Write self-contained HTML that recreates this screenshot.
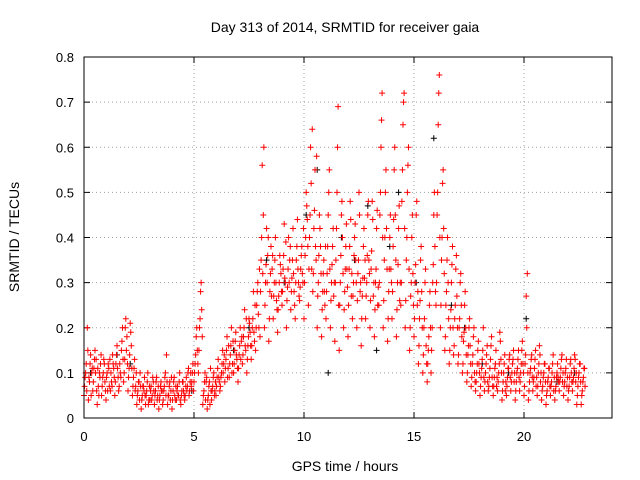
<!DOCTYPE html>
<html><head><meta charset="utf-8"><style>
body{margin:0;background:#fff}
svg{display:block;font-family:"Liberation Sans",sans-serif}
</style></head><body>
<svg id="chart" width="640" height="480" viewBox="0 0 640 480">
<rect width="640" height="480" fill="#fff"/>
<text x="345" y="32" font-size="14" text-anchor="middle">Day 313 of 2014, SRMTID for receiver gaia</text>
<g id="grid"></g>
<g id="ticks"></g>
<g id="pts"></g>
<rect x="84" y="57" width="528" height="361" fill="none" stroke="#000" stroke-width="1"/>
<text x="345" y="471" font-size="14" text-anchor="middle">GPS time / hours</text>
<text x="0" y="0" font-size="14" text-anchor="middle" transform="translate(19,237) rotate(-90)">SRMTID / TECUs</text>
</svg>
<script>
const xTicks=[0,5,10,15,20];
const yTicks=[0,0.1,0.2,0.3,0.4,0.5,0.6,0.7,0.8];
const tStart=0, tStep=0.2;
const redValues=[
[.05,.09,.12,.2],[.04,.08,.14,.1],[.06,.11,.15,.13],[.03,.07,.1,.12],[.05,.09,.13,.08],
[.04,.1,.12,.07],[.06,.08,.14,.11],[.05,.12,.16,.09],[.07,.1,.15,.2],[.08,.13,.22,.18],
[.06,.11,.21,.16],[.05,.09,.13,.07],[.03,.06,.08,.1],[.02,.05,.07,.09],[.03,.06,.1,.04],
[.04,.07,.05,.08],[.03,.06,.09,.05],[.02,.05,.08,.06],[.04,.07,.1,.14],[.03,.05,.08,.06],
[.02,.06,.09,.04],[.04,.07,.05,.1],[.03,.06,.08,.05],[.05,.09,.07,.11],[.06,.1,.08,.12],
[.08,.12,.18,.15],[.1,.2,.28,.24],[.03,.06,.1,.08],[.02,.05,.08,.11],[.04,.07,.1,.06],
[.05,.09,.13,.08],[.07,.1,.15,.12],[.08,.13,.18,.11],[.09,.14,.2,.12],[.1,.15,.19,.13],
[.08,.14,.2,.17],[.12,.18,.24,.15],[.1,.16,.22,.19],[.13,.2,.28,.17],[.15,.25,.3,.2],
[.18,.35,.56,.45],[.2,.3,.42,.36],[.17,.28,.38,.33],[.22,.3,.4,.26],[.19,.27,.36,.32],
[.25,.33,.43,.3],[.2,.29,.4,.35],[.24,.31,.42,.28],[.22,.35,.44,.3],[.26,.33,.38,.3],
[.22,.36,.5,.44],[.25,.4,.6,.33],[.28,.42,.55,.35],[.2,.3,.45,.38],[.18,.28,.35,.25],
[.22,.32,.45,.55],[.2,.3,.38,.27],[.17,.35,.5,.69],[.15,.3,.45,.4],[.2,.28,.38,.33],
[.18,.33,.48,.27],[.22,.3,.4,.35],[.2,.32,.5,.28],[.16,.27,.38,.31],[.22,.3,.45,.35],
[.2,.33,.48,.27],[.18,.3,.42,.25],[.25,.45,.6,.72],[.2,.35,.5,.42],[.17,.28,.4,.33],
[.22,.38,.55,.45],[.18,.3,.42,.26],[.25,.48,.65,.72],[.2,.35,.5,.6],[.15,.27,.4,.32],
[.18,.3,.45,.25],[.12,.22,.35,.28],[.1,.2,.3,.16],[.08,.15,.25,.2],[.15,.3,.45,.38],
[.25,.45,.65,.76],[.2,.35,.52,.42],[.15,.25,.35,.3],[.12,.2,.3,.38],[.14,.22,.33,.27],
[.12,.2,.3,.25],[.1,.17,.25,.2],[.08,.14,.2,.16],[.07,.12,.18,.1],[.06,.1,.15,.12],
[.05,.09,.13,.2],[.06,.1,.14,.08],[.07,.11,.16,.09],[.05,.09,.12,.07],[.06,.1,.19,.13],
[.04,.08,.12,.06],[.05,.09,.11,.14],[.06,.1,.13,.08],[.04,.08,.11,.15],[.06,.1,.15,.12],
[.05,.12,.27,.32],[.04,.08,.11,.14],[.06,.09,.13,.07],[.05,.1,.16,.08],[.04,.07,.1,.12],
[.03,.06,.09,.11],[.05,.08,.12,.06],[.04,.07,.1,.09],[.06,.09,.13,.08],[.05,.08,.11,.07],
[.04,.07,.12,.1],[.06,.09,.14,.08],[.03,.07,.1,.12],[.03,.06,.09,.11]];
const redValues2=[
[.07,.1,.06,.15],[.09,.12,.05,.11],[.08,.13,.1,.06],[.11,.05,.09,.14],[.07,.1,.12,.06],
[.09,.06,.11,.13],[.1,.07,.12,.09],[.08,.14,.11,.06],[.12,.09,.17,.13],[.1,.2,.15,.12],
[.09,.14,.19,.11],[.07,.11,.06,.1],[.05,.08,.04,.07],[.04,.07,.06,.05],[.05,.08,.03,.07],
[.06,.04,.09,.06],[.05,.08,.04,.07],[.04,.07,.06,.03],[.06,.09,.05,.08],[.05,.07,.04,.09],
[.04,.08,.05,.07],[.06,.05,.08,.04],[.05,.08,.06,.04],[.07,.06,.1,.05],[.08,.07,.1,.06],
[.1,.14,.2,.12],[.15,.22,.3,.18],[.05,.08,.04,.09],[.04,.07,.03,.06],[.06,.09,.05,.08],
[.07,.11,.09,.06],[.09,.12,.1,.14],[.11,.15,.09,.16],[.12,.16,.1,.17],[.12,.17,.14,.11],
[.11,.16,.13,.18],[.14,.2,.16,.22],[.13,.18,.21,.16],[.16,.22,.19,.25],[.2,.28,.23,.33],
[.28,.4,.32,.6],[.25,.34,.3,.4],[.22,.32,.27,.36],[.27,.35,.3,.24],[.24,.3,.34,.28],
[.28,.36,.31,.39],[.26,.33,.3,.38],[.28,.35,.32,.25],[.3,.38,.33,.27],[.29,.36,.32,.42],
[.3,.4,.47,.38],[.33,.45,.52,.64],[.32,.46,.38,.58],[.27,.36,.42,.32],[.24,.32,.28,.38],
[.28,.38,.5,.33],[.26,.34,.42,.3],[.3,.42,.6,.25],[.25,.36,.48,.32],[.24,.33,.43,.29],
[.25,.38,.44,.32],[.27,.36,.43,.3],[.26,.35,.45,.3],[.22,.31,.42,.35],[.27,.36,.48,.32],
[.26,.37,.44,.3],[.24,.33,.46,.29],[.3,.5,.66,.4],[.26,.4,.55,.33],[.22,.33,.45,.3],
[.28,.44,.6,.35],[.24,.34,.47,.3],[.3,.55,.7,.42],[.26,.4,.56,.33],[.2,.3,.45,.25],
[.22,.34,.48,.28],[.16,.26,.38,.2],[.14,.22,.33,.12],[.12,.18,.28,.1],[.2,.34,.5,.28],
[.3,.5,.72,.4],[.25,.4,.55,.32],[.18,.28,.4,.22],[.15,.24,.34,.2],[.16,.25,.36,.2],
[.14,.22,.32,.18],[.12,.19,.28,.14],[.1,.16,.22,.12],[.09,.14,.2,.08],[.08,.12,.17,.1],
[.07,.11,.15,.09],[.08,.12,.16,.06],[.09,.13,.18,.07],[.07,.11,.15,.09],[.08,.12,.17,.1],
[.06,.1,.14,.08],[.07,.11,.13,.09],[.08,.12,.15,.1],[.06,.1,.13,.09],[.08,.12,.17,.1],
[.07,.14,.2,.1],[.06,.1,.13,.09],[.08,.11,.15,.09],[.07,.12,.14,.1],[.06,.09,.12,.08],
[.05,.08,.11,.07],[.07,.1,.14,.09],[.06,.09,.12,.08],[.08,.11,.14,.1],[.07,.1,.13,.09],
[.06,.09,.13,.08],[.08,.11,.13,.1],[.05,.09,.12,.08],[.05,.08,.11,.07]];
const blackTimes=[0.3,1.5,2.1,4.9,6.8,7.5,8.3,9.1,10.1,10.6,11.1,11.7,12.3,12.9,13.3,13.9,14.3,15.1,15.9,16.7,17.3,18.1,19.3,20.1,21.5,22.3];
const blackValues=[.1,.14,.12,.06,.15,.2,.35,.3,.45,.55,.1,.4,.35,.47,.15,.38,.5,.3,.62,.25,.2,.12,.1,.22,.08,.1];
const X=t=>84+t*22, Y=v=>418-v*451.25;
const NS='http://www.w3.org/2000/svg';
const grid=document.getElementById('grid'), ticks=document.getElementById('ticks'), pts=document.getElementById('pts');
function mk(tag,attrs,parent){const e=document.createElementNS(NS,tag);for(const k in attrs)e.setAttribute(k,attrs[k]);parent.appendChild(e);return e;}
xTicks.forEach(v=>{
  const gl=mk('line',{x1:X(v),x2:X(v),y1:57,y2:418,stroke:'#a0a0a0','stroke-dasharray':'1,3'},grid);
  
  
  mk('line',{x1:X(v),x2:X(v),y1:418,y2:412,stroke:'#000'},ticks);
  mk('line',{x1:X(v),x2:X(v),y1:57,y2:63,stroke:'#000'},ticks);
  const tx=mk('text',{x:X(v),y:441,'font-size':13,'text-anchor':'middle'},ticks);
  tx.textContent=v;
  
  
});
yTicks.forEach(v=>{
  const gl=mk('line',{x1:84,x2:612,y1:Y(v),y2:Y(v),stroke:'#a0a0a0','stroke-dasharray':'1,3'},grid);
  
  
  mk('line',{x1:84,x2:90,y1:Y(v),y2:Y(v),stroke:'#000'},ticks);
  mk('line',{x1:606,x2:612,y1:Y(v),y2:Y(v),stroke:'#000'},ticks);
  const tx=mk('text',{x:74,y:Y(v)+5,'font-size':13,'text-anchor':'end'},ticks);
  tx.textContent=v===0?'0':v.toFixed(1);
  
  
});
function cross(t,v,col){
  const x=X(t),y=Y(v);
  const p=mk('path',{d:`M${x-3},${y}h6M${x},${y-3}v6`,stroke:col,'stroke-width':1,fill:'none'},pts);
  
  
}
blackTimes.forEach((t,i)=>cross(t,blackValues[i],'#000'));
redValues.forEach((row,i)=>row.forEach((v,k)=>cross(tStart+i*tStep+k*0.05,v,'#ff0000')));
redValues2.forEach((row,i)=>row.forEach((v,k)=>cross(tStart+i*tStep+k*0.05+0.025,v,'#ff0000')));
</script>
</body></html>
